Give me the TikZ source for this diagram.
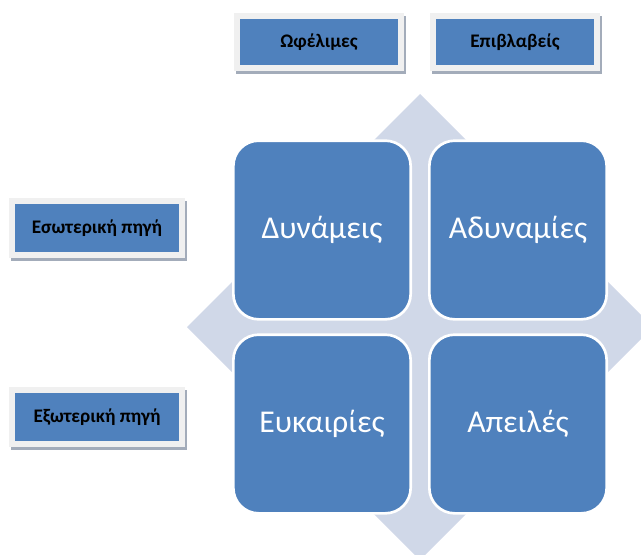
\documentclass[tikz,border=0pt]{standalone}
\usepackage{fontspec}
\setmainfont{Carlito}
\usetikzlibrary{backgrounds}
\definecolor{cellblue}{HTML}{4F81BD}
\definecolor{crossgrey}{HTML}{D0D8E8}
\definecolor{framegrey}{HTML}{F0F0F0}
\definecolor{shadowgrey}{HTML}{A3ACBA}
\tikzset{
  cell/.style={rectangle, rounded corners=19pt, fill=cellblue, draw=white,
    line width=2pt, minimum width=133pt, minimum height=134pt, inner sep=0pt,
    text=white, font=\fontsize{23.8}{28}\selectfont},
  tag/.style={rectangle, fill=cellblue, draw=framegrey, line width=4.5pt,
    minimum width=123pt, minimum height=39pt, inner sep=0pt,
    text=black, font=\bfseries\fontsize{14.4}{17}\selectfont},
  tagshadow/.style={fill=shadowgrey}
}
\begin{document}
\begin{tikzpicture}[x=0.75pt,y=-0.75pt]
  \useasboundingbox (0,0) rectangle (641,554);
  \clip (0,0) rectangle (641,554);

  % background diamond behind the grid
  \fill[crossgrey] (420,94) -- (653,327) -- (420,560) -- (187,327) -- cycle;

  % the four quadrants
  \node[cell] (str) at (322,230) {Δυνάμεις};
  \node[cell] (wea) at (518,230) {Αδυναμίες};
  \node[cell] (opp) at (322,424) {Ευκαιρίες};
  \node[cell] (thr) at (518,424) {Απειλές};

  % row and column headings
  \node[tag] (good) at (319,42) {Ωφέλιμες};
  \node[tag] (bad)  at (515,42) {Επιβλαβείς};
  \node[tag, minimum width=128pt, minimum height=41pt] (inner) at (97,228) {Εσωτερική πηγή};
  \node[tag, minimum width=128pt, minimum height=40pt] (outer) at (97,417) {Εξωτερική πηγή};

  % drop shadows under the headings
  \begin{scope}[on background layer]
    \foreach \t in {good,bad,inner,outer}
      \fill[tagshadow] ([shift={(2,3)}]\t.south west) rectangle ([shift={(2,3)}]\t.north east);
  \end{scope}
\end{tikzpicture}
\end{document}
